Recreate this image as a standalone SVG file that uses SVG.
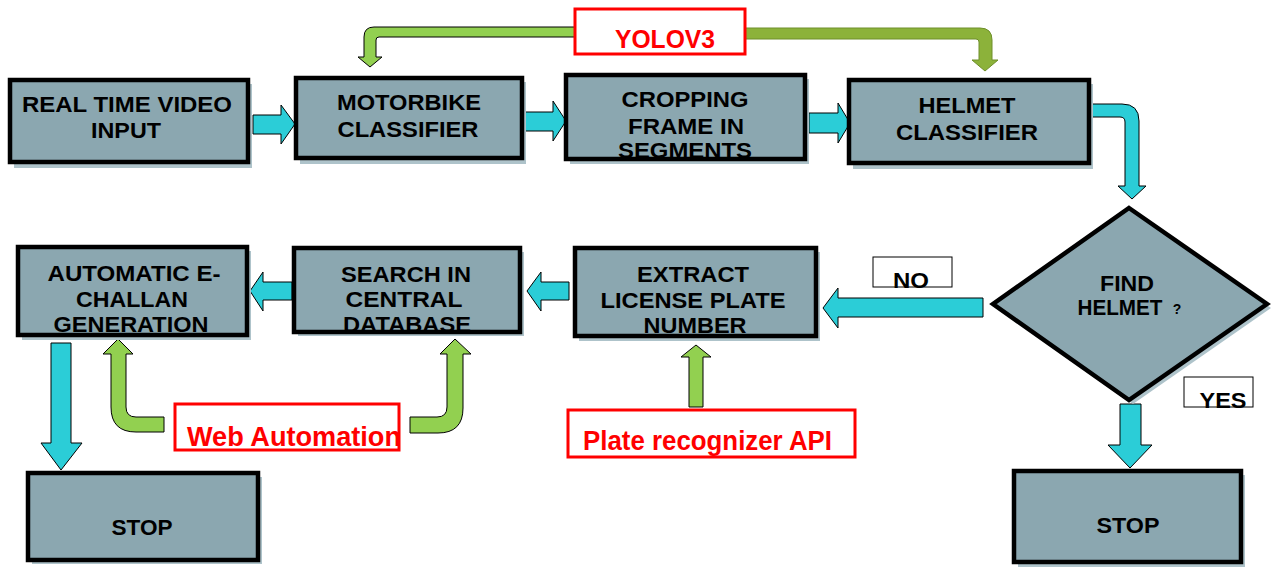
<svg xmlns="http://www.w3.org/2000/svg" width="1272" height="574" viewBox="0 0 1272 574">
<style>
.box{fill:#8ba7b0;stroke:#000;stroke-width:4.5}
.sh{fill:#aec3ca}
.t{font-family:"Liberation Sans",Arial,sans-serif;font-weight:bold;font-size:22px;fill:#000;text-anchor:middle}
.lbl{fill:#fff;stroke:#000;stroke-width:1}
.red{fill:#fff;stroke:#ff0000;stroke-width:3}
.rt{font-family:"Liberation Sans",Arial,sans-serif;font-weight:bold;font-size:27px;fill:#ff0000}
.cy{fill:#2bcdd7;stroke:#000;stroke-width:1}
.gr{fill:#92d050;stroke:#000;stroke-width:1}
.ol{fill:#8cb23a;stroke:#6e8f2a;stroke-width:1}
</style>
<rect width="1272" height="574" fill="#fff"/>
<g id="connectors">
<path class="ol" d="M745 28 L980 28 Q992 28 992 40 L992 60 L998 60 L985 71 L972 60 L979 60 L979 42 Q979 39 976 39 L745 39 Z"/>
<path class="gr" d="M575 27 L374 27 Q364 27 364 37 L364 57 L358 57 L370 67 L382 57 L376 57 L376 40 Q376 37 379 37 L575 37 Z"/>
<path class="cy" d="M253 115 L281 115 L281 105 L295 124 L281 144 L281 134 L253 134 Z"/>
<path class="cy" d="M524 112 L553 112 L553 101 L566 121 L553 141 L553 131 L524 131 Z"/>
<path class="cy" d="M809 113 L838 113 L838 103 L850 123 L838 143 L838 133 L809 133 Z"/>
<path class="cy" d="M1092 104 L1122 104 Q1139 104 1139 121 L1139 186 L1146 186 L1132 199 L1118 186 L1125 186 L1125 122 Q1125 117 1120 117 L1092 117 Z"/>
<path class="cy" d="M983 298 L838 298 L838 288 L823 308 L838 328 L838 317 L983 317 Z"/>
<path class="cy" d="M569 282 L541 282 L541 272 L527 291 L541 311 L541 300 L569 300 Z"/>
<path class="cy" d="M292 282 L263 282 L263 272 L250 291 L263 311 L263 300 L292 300 Z"/>
<path class="cy" d="M51 343 L71 343 L71 443 L82 443 L61 470 L41 443 L51 443 Z"/>
<path class="cy" d="M1120 404 L1141 404 L1141 445 L1152 445 L1130 468 L1108 445 L1120 445 Z"/>
<path class="gr" d="M164 417 L136 417 Q126 417 126 407 L126 354 L133 354 L118 339 L103 354 L111 354 L111 407 Q111 432 136 432 L164 432 Z"/>
<path class="gr" d="M410 417 L437 417 Q447 417 447 407 L447 354 L440 354 L455 339 L471 354 L463 354 L463 408 Q463 433 438 433 L410 433 Z"/>
<path class="gr" d="M689 407 L703 407 L703 357 L711 357 L696 345 L681 357 L689 357 Z"/>
</g>
<g id="yolo">
<rect class="red" x="575" y="9" width="170" height="45"/>
<text class="rt" x="615" y="48" textLength="100" lengthAdjust="spacingAndGlyphs" style="font-size:26px">YOLOV3</text>
</g>
<g id="n1">
<rect class="sh" x="14" y="84" width="238" height="84"/>
<rect class="box" x="10" y="80" width="238" height="82"/>
<text class="t" x="127" y="112" textLength="210" lengthAdjust="spacingAndGlyphs">REAL TIME VIDEO</text>
<text class="t" x="126" y="138" textLength="70" lengthAdjust="spacingAndGlyphs">INPUT</text>
</g>
<g id="n2">
<rect class="sh" x="300" y="82" width="226" height="82"/>
<rect class="box" x="296" y="78" width="226" height="80"/>
<text class="t" x="409" y="110" textLength="144" lengthAdjust="spacingAndGlyphs">MOTORBIKE</text>
<text class="t" x="408" y="137" textLength="141" lengthAdjust="spacingAndGlyphs">CLASSIFIER</text>
</g>
<g id="n3">
<rect class="sh" x="570" y="79" width="239" height="85"/>
<rect class="box" x="566" y="75" width="239" height="84"/>
<text class="t" x="685" y="107" textLength="127" lengthAdjust="spacingAndGlyphs">CROPPING</text>
<text class="t" x="686" y="134" textLength="116" lengthAdjust="spacingAndGlyphs">FRAME IN</text>
<text class="t" x="685" y="158" textLength="134" lengthAdjust="spacingAndGlyphs">SEGMENTS</text>
</g>
<g id="n4">
<rect class="sh" x="853" y="84" width="240" height="85"/>
<rect class="box" x="849" y="80" width="240" height="83"/>
<text class="t" x="967" y="113" textLength="97" lengthAdjust="spacingAndGlyphs">HELMET</text>
<text class="t" x="967" y="140" textLength="142" lengthAdjust="spacingAndGlyphs">CLASSIFIER</text>
</g>
<g id="decision">
<polygon class="sh" points="1133,212 1271,308 1133,404 997,308"/>
<polygon class="box" points="1129,208 1267,304 1129,400 993,304"/>
<text class="t" x="1127" y="291" textLength="54" lengthAdjust="spacingAndGlyphs">FIND</text>
<text class="t" x="1120" y="315" textLength="85" lengthAdjust="spacingAndGlyphs">HELMET</text>
<text class="t" x="1177" y="314" style="font-size:14px">?</text>
</g>
<g id="no">
<rect class="lbl" x="873" y="257" width="79" height="30"/>
<text class="t" x="911" y="288" textLength="36" lengthAdjust="spacingAndGlyphs">NO</text>
</g>
<g id="yes">
<rect class="lbl" x="1184" y="377" width="69" height="30"/>
<text class="t" x="1223" y="408" textLength="47" lengthAdjust="spacingAndGlyphs">YES</text>
</g>
<g id="n5">
<rect class="sh" x="579" y="252" width="241" height="89"/>
<rect class="box" x="575" y="248" width="241" height="88"/>
<text class="t" x="693" y="282" textLength="112" lengthAdjust="spacingAndGlyphs">EXTRACT</text>
<text class="t" x="693" y="308" textLength="185" lengthAdjust="spacingAndGlyphs">LICENSE PLATE</text>
<text class="t" x="695" y="333" textLength="103" lengthAdjust="spacingAndGlyphs">NUMBER</text>
</g>
<g id="n6">
<rect class="sh" x="298" y="252" width="226" height="84"/>
<rect class="box" x="294" y="248" width="226" height="84"/>
<text class="t" x="406" y="282" textLength="130" lengthAdjust="spacingAndGlyphs">SEARCH IN</text>
<text class="t" x="404" y="307" textLength="117" lengthAdjust="spacingAndGlyphs">CENTRAL</text>
<text class="t" x="407" y="332" textLength="128" lengthAdjust="spacingAndGlyphs">DATABASE</text>
</g>
<g id="n7">
<rect class="sh" x="22" y="251" width="229" height="89"/>
<rect class="box" x="18" y="247" width="229" height="88"/>
<text class="t" x="134" y="281" textLength="173" lengthAdjust="spacingAndGlyphs">AUTOMATIC E-</text>
<text class="t" x="132" y="307" textLength="112" lengthAdjust="spacingAndGlyphs">CHALLAN</text>
<text class="t" x="131" y="332" textLength="155" lengthAdjust="spacingAndGlyphs">GENERATION</text>
</g>
<g id="web">
<rect class="red" x="175" y="404" width="224" height="46"/>
<text class="rt" x="187" y="446" textLength="214" lengthAdjust="spacingAndGlyphs">Web Automation</text>
</g>
<g id="plate">
<rect class="red" x="568" y="410" width="287" height="47"/>
<text class="rt" x="583" y="450" textLength="249" lengthAdjust="spacingAndGlyphs">Plate recognizer API</text>
</g>
<g id="stop1">
<rect class="sh" x="32" y="477" width="230" height="87"/>
<rect class="box" x="28" y="473" width="230" height="87"/>
<text class="t" x="142" y="535" textLength="61" lengthAdjust="spacingAndGlyphs">STOP</text>
</g>
<g id="stop2">
<rect class="sh" x="1018" y="475" width="227" height="92"/>
<rect class="box" x="1014" y="471" width="227" height="91"/>
<text class="t" x="1128" y="533" textLength="63" lengthAdjust="spacingAndGlyphs">STOP</text>
</g>
</svg>
